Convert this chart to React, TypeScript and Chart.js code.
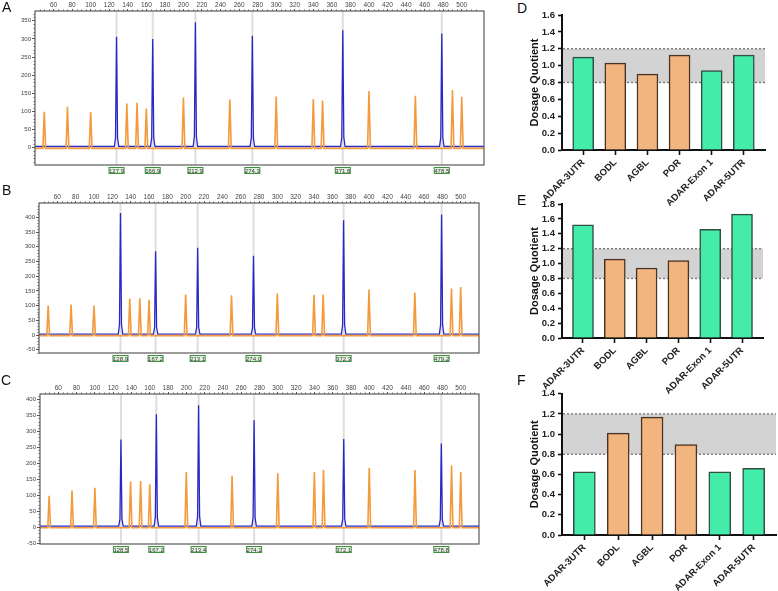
import React, { useEffect, useRef } from "react";
import { Chart, registerables } from "chart.js";

Chart.register(...registerables);

const FONT = "'Liberation Sans', Arial, Helvetica, sans-serif";

// ---------- Electropherogram data (A, B, C) ----------
const sizeStandardBp = [50, 75, 100, 139, 150, 160, 200, 250, 300, 340, 350, 400, 450, 490, 500];
const sizeStandardA = [99, 113, 98, 122, 124, 108, 138, 133, 141, 134, 130, 156, 143, 159, 140];
const sizeStandardB = [100, 104, 100, 124, 125, 120, 138, 135, 141, 137, 138, 155, 145, 158, 163];
const sizeStandardC = [98, 114, 123, 142, 144, 134, 172, 160, 168, 172, 178, 185, 178, 192, 172];

const probeBpA = [127.9, 166.9, 212.9, 274.3, 371.8, 478.5];
const probeA = [306, 300, 346, 309, 324, 315];
const probeBpB = [128.9, 167.2, 213.1, 274.0, 372.3, 479.2];
const probeB = [415, 285, 297, 270, 390, 410];
const probeBpC = [128.5, 167.2, 213.4, 274.1, 372.1, 478.8];
const probeC = [274, 353, 381, 334, 275, 261];

const bpTickLabels = [60, 80, 100, 120, 140, 160, 180, 200, 220, 240, 260, 280, 300, 320, 340, 360, 380, 400, 420, 440, 460, 480, 500];
const rfuTicksA = [0, 50, 100, 150, 200, 250, 300, 350];
const rfuTicksBC = [-50, 0, 50, 100, 150, 200, 250, 300, 350, 400];

const orangeBaseline = -2;
const blueBaseline = 3;

// ---------- Dosage quotient data (D, E, F) ----------
const targets = ["ADAR-3UTR", "BODL", "AGBL", "POR", "ADAR-Exon 1", "ADAR-5UTR"];
const targetKind = ["test", "ref", "ref", "ref", "test", "test"];
const quotientD = [1.1, 1.03, 0.9, 1.125, 0.94, 1.125];
const quotientE = [1.52, 1.06, 0.94, 1.04, 1.46, 1.665];
const quotientF = [0.625, 1.01, 1.168, 0.895, 0.625, 0.66];
const normalRange = [0.8, 1.2];
const qTicksD = [0, 0.2, 0.4, 0.6, 0.8, 1.0, 1.2, 1.4, 1.6];
const qTicksE = [0, 0.2, 0.4, 0.6, 0.8, 1.0, 1.2, 1.4, 1.6, 1.8];
const qTicksF = [0, 0.2, 0.4, 0.6, 0.8, 1.0, 1.2, 1.4];

// ---------- styles ----------
const ORANGE_TRACE = "#f29a3c";
const BLUE_TRACE = "#2828c8";
const GREEN = "#45eca9";
const GREEN_EDGE = "#2f4f42";
const ORANGE = "#f2b57f";
const ORANGE_EDGE = "#4a3322";

// peak profile (shape of a single peak around its position)
const orangeShapeOff = [-1.5, 0, 1.5];
const orangeShapeFrac = [0, 1, 0];
const blueShapeOff = [-2.4, -1.1, 0, 1.1, 2.4];
const blueShapeFrac = [0, 0.08, 1, 0.08, 0];

function buildTrace(bps: number[], hs: number[], base: number, xMin: number, xMax: number, off: number[], frac: number[]) {
  const pts: { x: number; y: number }[] = [{ x: xMin, y: base }];
  bps.forEach((p, i) => {
    off.forEach((o, k) => pts.push({ x: p + o, y: base + (hs[i] - base) * frac[k] }));
  });
  pts.push({ x: xMax, y: base });
  return pts;
}

const epgDeco = {
  id: "epgDeco",
  beforeDatasetsDraw(chart: any, _a: any, opts: any) {
    const { ctx, chartArea: ca, scales } = chart;
    ctx.save();
    ctx.strokeStyle = "#dedede";
    ctx.lineWidth = 2;
    (opts.markers as number[]).forEach((bp) => {
      const px = scales.x.getPixelForValue(bp);
      ctx.beginPath();
      ctx.moveTo(px, ca.top);
      ctx.lineTo(px, ca.bottom);
      ctx.stroke();
    });
    ctx.restore();
  },
  afterDraw(chart: any, _a: any, opts: any) {
    const { ctx, chartArea: ca, scales } = chart;
    const x = scales.x;
    const y = scales.y;
    ctx.save();
    // minor ticks
    ctx.strokeStyle = "#666";
    ctx.lineWidth = 0.8;
    for (let v = Math.ceil(x.min / 5) * 5; v <= x.max; v += 5) {
      if (v % 20 === 0) continue;
      const px = Math.round(x.getPixelForValue(v)) + 0.5;
      ctx.beginPath();
      ctx.moveTo(px, ca.top);
      ctx.lineTo(px, ca.top - 1.6);
      ctx.stroke();
    }
    for (let v = Math.ceil(y.min / 10) * 10; v <= y.max; v += 10) {
      if (v % 50 === 0) continue;
      const py = Math.round(y.getPixelForValue(v)) + 0.5;
      ctx.beginPath();
      ctx.moveTo(ca.left, py);
      ctx.lineTo(ca.left - 1.6, py);
      ctx.stroke();
    }
    // border
    ctx.strokeStyle = "#5a5a5a";
    ctx.lineWidth = 1.2;
    ctx.strokeRect(ca.left, ca.top, ca.right - ca.left, ca.bottom - ca.top);
    // peak size boxes
    ctx.font = `6px ${FONT}`;
    ctx.textAlign = "center";
    ctx.textBaseline = "middle";
    (opts.markers as number[]).forEach((bp) => {
      const px = x.getPixelForValue(bp);
      const bw = 16;
      const bh = 7;
      const by = ca.bottom + 2;
      ctx.fillStyle = "#e3f2dc";
      ctx.fillRect(px - bw / 2, by, bw, bh);
      ctx.strokeStyle = "#3f8f45";
      ctx.lineWidth = 1;
      ctx.strokeRect(px - bw / 2 + 0.5, by + 0.5, bw - 1, bh - 1);
      ctx.fillStyle = "#333";
      ctx.fillText(bp.toFixed(1), px, by + bh / 2 + 0.5);
    });
    ctx.restore();
  },
};

function epgConfig(p: any) {
  const orangeTrace = buildTrace(sizeStandardBp, p.orange, orangeBaseline, p.xMin, p.xMax, orangeShapeOff, orangeShapeFrac);
  const blueTrace = buildTrace(p.blueBp, p.blue, blueBaseline, p.xMin, p.xMax, blueShapeOff, blueShapeFrac);
  return {
    type: "line",
    data: {
      datasets: [
        { data: orangeTrace, borderColor: ORANGE_TRACE, borderWidth: 1.6, pointRadius: 0, tension: 0, fill: false },
        { data: blueTrace, borderColor: BLUE_TRACE, borderWidth: 1.3, pointRadius: 0, tension: 0, fill: false },
      ],
    },
    options: {
      animation: false,
      responsive: false,
      devicePixelRatio: 1,
      layout: { padding: { left: 0, top: 0, right: p.w - p.plotRight, bottom: p.h - p.plotBottom } },
      plugins: { legend: { display: false }, tooltip: { enabled: false }, epgDeco: { markers: p.blueBp } },
      scales: {
        x: {
          type: "linear",
          position: "top",
          min: p.xMin,
          max: p.xMax,
          afterBuildTicks: (s: any) => {
            s.ticks = bpTickLabels.map((v) => ({ value: v }));
          },
          afterFit: (s: any) => {
            s.height = p.plotTop;
          },
          ticks: { autoSkip: false, maxRotation: 0, minRotation: 0, font: { family: FONT, size: 6.5 }, color: "#444", padding: 0 },
          grid: { drawOnChartArea: false, tickLength: 2, tickColor: "#555", tickWidth: 1 },
          border: { display: false },
        },
        y: {
          type: "linear",
          min: p.yMin,
          max: p.yMax,
          afterBuildTicks: (s: any) => {
            s.ticks = p.yTicks.map((v: number) => ({ value: v }));
          },
          afterFit: (s: any) => {
            s.width = p.plotLeft;
          },
          ticks: { autoSkip: false, font: { family: FONT, size: 6 }, color: "#444", padding: 1 },
          grid: { drawOnChartArea: false, tickLength: 3, tickColor: "#555", tickWidth: 1 },
          border: { display: false },
        },
      },
    },
    plugins: [epgDeco],
  };
}

const bandDeco = {
  id: "bandDeco",
  beforeDatasetsDraw(chart: any, _a: any, opts: any) {
    const { ctx, chartArea: ca, scales } = chart;
    const yHi = scales.y.getPixelForValue(opts.hi);
    const yLo = scales.y.getPixelForValue(opts.lo);
    ctx.save();
    ctx.fillStyle = "#d3d3d3";
    ctx.fillRect(ca.left + 1, yHi, ca.right - ca.left - 1, yLo - yHi);
    ctx.strokeStyle = "#7a7a7a";
    ctx.lineWidth = 1.4;
    ctx.setLineDash([2, 2]);
    [yHi, yLo].forEach((py) => {
      ctx.beginPath();
      ctx.moveTo(ca.left + 1, py);
      ctx.lineTo(ca.right, py);
      ctx.stroke();
    });
    ctx.restore();
  },
};

function qConfig(values: number[], ticks: number[], p: any) {
  return {
    type: "bar",
    data: {
      datasets: [
        {
          data: values.map((v, i) => ({ x: i, y: v })),
          backgroundColor: targetKind.map((k) => (k === "test" ? GREEN : ORANGE)),
          borderColor: targetKind.map((k) => (k === "test" ? GREEN_EDGE : ORANGE_EDGE)),
          borderWidth: 1.5,
          barThickness: p.barW,
          borderSkipped: "start",
        },
      ],
    },
    options: {
      animation: false,
      responsive: false,
      devicePixelRatio: 1,
      layout: { padding: { left: 0, top: p.padTop, right: p.padRight, bottom: 0 } },
      plugins: { legend: { display: false }, tooltip: { enabled: false }, bandDeco: { lo: normalRange[0], hi: normalRange[1] } },
      scales: {
        x: {
          type: "linear",
          min: -0.66,
          max: 5.66,
          offset: false,
          afterBuildTicks: (s: any) => {
            s.ticks = targets.map((_, i) => ({ value: i }));
          },
          afterFit: (s: any) => {
            s.height = p.xAxisH;
          },
          ticks: {
            callback: (v: any) => targets[Math.round(Number(v))] ?? "",
            autoSkip: false,
            minRotation: 45,
            maxRotation: 45,
            font: { family: FONT, size: 9.5, weight: "bold" },
            color: "#222",
            padding: 2,
          },
          grid: { drawOnChartArea: false, offset: false, tickLength: 5, tickWidth: 1.6, tickColor: "#111" },
          border: { color: "#111", width: 2 },
        },
        y: {
          type: "linear",
          min: 0,
          max: ticks[ticks.length - 1],
          afterBuildTicks: (s: any) => {
            s.ticks = ticks.map((v) => ({ value: v }));
          },
          afterFit: (s: any) => {
            s.width = p.yAxisW;
          },
          ticks: {
            callback: (v: any) => Number(v).toFixed(1),
            autoSkip: false,
            font: { family: FONT, size: 9.5, weight: "bold" },
            color: "#222",
            padding: 3,
          },
          grid: { drawOnChartArea: false, tickLength: 4, tickWidth: 1.6, tickColor: "#111" },
          border: { color: "#111", width: 2 },
          title: { display: true, text: "Dosage Quotient", font: { family: FONT, size: 11, weight: "bold" }, color: "#111", padding: 0 },
        },
      },
    },
    plugins: [bandDeco],
  };
}

function ChartBox({ make, left, top, width, height }: any) {
  const ref = useRef<HTMLCanvasElement>(null);
  useEffect(() => {
    const chart = new Chart(ref.current as HTMLCanvasElement, make());
    return () => chart.destroy();
  }, []);
  return (
    <canvas
      ref={ref}
      width={width}
      height={height}
      style={{ position: "absolute", left, top, width, height }}
    />
  );
}

const epgA = { w: 500, h: 185, plotLeft: 35, plotTop: 11, plotRight: 484, plotBottom: 165, xMin: 40, xMax: 524, yMin: -48, yMax: 377, yTicks: rfuTicksA, orange: sizeStandardA, blueBp: probeBpA, blue: probeA };
const epgB = { w: 500, h: 192, plotLeft: 39, plotTop: 18, plotRight: 479, plotBottom: 168, xMin: 40, xMax: 520, yMin: -61, yMax: 449, yTicks: rfuTicksBC, orange: sizeStandardB, blueBp: probeBpB, blue: probeB };
const epgC = { w: 500, h: 190, plotLeft: 40, plotTop: 14, plotRight: 479, plotBottom: 164, xMin: 40, xMax: 520, yMin: -53, yMax: 416, yTicks: rfuTicksBC, orange: sizeStandardC, blueBp: probeBpC, blue: probeC };

// canvas D: top 0, height 215 -> axis at 150
const qD = { padTop: 15, padRight: 13, xAxisH: 65, yAxisW: 34, barW: 21 };
// canvas E: top 195, height 205 -> axis at 337.7
const qE = { padTop: 9, padRight: 15, xAxisH: 62, yAxisW: 34, barW: 21 };
// canvas F: top 385, height 206 -> axis at 535
const qF = { padTop: 8, padRight: 2, xAxisH: 56, yAxisW: 34, barW: 22 };

const letterStyle: React.CSSProperties = {
  position: "absolute",
  fontFamily: FONT,
  fontSize: 14,
  lineHeight: "14px",
  color: "#111",
};

export default function App() {
  return (
    <div style={{ position: "absolute", left: 0, top: 0, width: 778, height: 591, background: "#fff", overflow: "hidden" }}>
      <ChartBox make={() => epgConfig(epgA)} left={0} top={0} width={500} height={185} />
      <ChartBox make={() => epgConfig(epgB)} left={0} top={185} width={500} height={192} />
      <ChartBox make={() => epgConfig(epgC)} left={0} top={380} width={500} height={190} />
      <ChartBox make={() => qConfig(quotientD, qTicksD, qD)} left={528} top={0} width={250} height={215} />
      <ChartBox make={() => qConfig(quotientE, qTicksE, qE)} left={528} top={195} width={250} height={205} />
      <ChartBox make={() => qConfig(quotientF, qTicksF, qF)} left={528} top={385} width={250} height={206} />
      <div style={{ ...letterStyle, left: 2, top: 0 }}>A</div>
      <div style={{ ...letterStyle, left: 2, top: 183 }}>B</div>
      <div style={{ ...letterStyle, left: 1, top: 373 }}>C</div>
      <div style={{ ...letterStyle, left: 517, top: 1 }}>D</div>
      <div style={{ ...letterStyle, left: 517, top: 193 }}>E</div>
      <div style={{ ...letterStyle, left: 517, top: 373 }}>F</div>
    </div>
  );
}
